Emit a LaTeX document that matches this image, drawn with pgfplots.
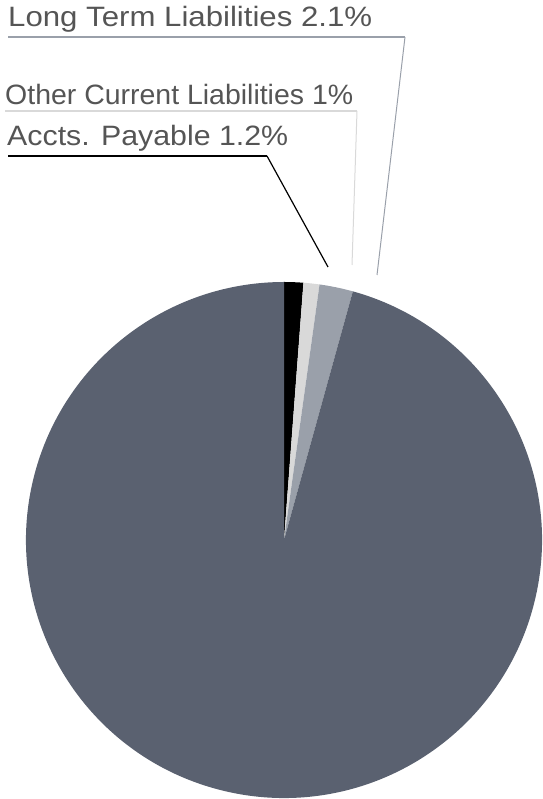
\documentclass[border=0pt]{standalone}
\usepackage{pgfplots}
\pgfplotsset{compat=1.18}
\usepackage{pgfplotstable}
\usepackage{fontspec}
\setmainfont{Liberation Sans}
\definecolor{slate}{HTML}{5A6170}
\definecolor{piegray}{HTML}{9AA0AA}
\definecolor{pielight}{HTML}{D9D9D9}
\definecolor{pieblack}{HTML}{000000}
\definecolor{txt}{HTML}{555555}
\newcommand{\lbl}{\fontsize{28}{32}\selectfont}

% slices, clockwise from 12 o'clock
\pgfplotstableread{
name value color
AcctsPayable 1.2 pieblack
OtherCurrent 1.0 pielight
LongTerm 2.1 piegray
Rest 95.7 slate
}\piedata

\begin{document}
\begin{tikzpicture}
\begin{axis}[
    name=ax,
    scale only axis,
    width=542pt, height=799pt,
    xmin=0, xmax=542, ymin=0, ymax=799,
    hide axis, clip=false,
]
\pgfplotstablegetrowsof{\piedata}
\pgfmathtruncatemacro{\nrows}{\pgfplotsretval-1}
\def\cum{0}
\pgfplotsforeachungrouped \i in {0,...,\nrows}{
  \pgfplotstablegetelem{\i}{value}\of\piedata \let\val\pgfplotsretval
  \pgfplotstablegetelem{\i}{color}\of\piedata \let\col\pgfplotsretval
  \pgfmathsetmacro{\a}{90-3.6*\cum}
  \pgfmathsetmacro{\b}{90-3.6*(\cum+\val)}
  \edef\temp{\noexpand\fill[\col] (axis cs:284,259) -- ++(\a:258pt) arc[start angle=\a, end angle=\b, radius=258pt] -- cycle;}
  \temp
  \pgfmathsetmacro{\cum}{\cum+\val}
}
% labels and leader lines
\draw[piegray, line width=2pt] (axis cs:8,762) -- (axis cs:405,762);
\draw[piegray, line width=1pt] (axis cs:405,762) -- (axis cs:377,524);
\node[anchor=base west, inner sep=0pt, text=txt, font=\lbl] at (axis cs:8,772) {\resizebox{364pt}{\height}{Long Term Liabilities 2.1\%}};
\draw[pielight, line width=2pt] (axis cs:5,688) -- (axis cs:357,688);
\draw[pielight, line width=1pt] (axis cs:357,688) -- (axis cs:352,534);
\node[anchor=base west, inner sep=0pt, text=txt, font=\lbl] at (axis cs:5,694) {\resizebox{348pt}{\height}{Other Current Liabilities 1\%}};
\draw[pieblack, line width=1.5pt] (axis cs:8,643) -- (axis cs:267,643);
\draw[pieblack, line width=1.2pt] (axis cs:267,643) -- (axis cs:328,532);
\node[anchor=base west, inner sep=0pt, text=txt, font=\lbl] at (axis cs:7,653) {\resizebox{281pt}{\height}{Accts. Payable 1.2\%}};
\end{axis}
\pgfresetboundingbox
\path (ax.south west) rectangle (ax.north east);
\end{tikzpicture}
\end{document}
